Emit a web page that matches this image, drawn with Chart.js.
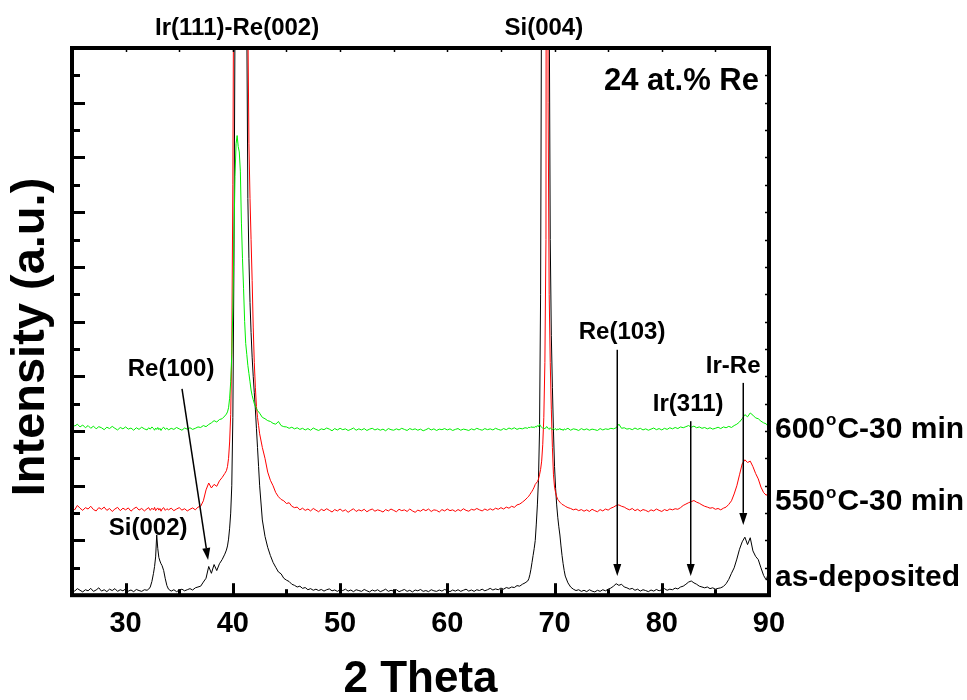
<!DOCTYPE html>
<html>
<head>
<meta charset="utf-8">
<title>XRD patterns, 24 at.% Re</title>
<script src="https://cdn.jsdelivr.net/npm/chart.js@4.4.1/dist/chart.umd.min.js"></script>
<style>
  html, body { margin: 0; padding: 0; background: #ffffff; }
  #wrap { width: 967px; height: 700px; position: relative; }
</style>
</head>
<body>
<div id="wrap"><canvas id="xrd" width="967" height="700"></canvas></div>
<script>
// ---- scan positions (2 theta, degrees); one row per degree ----
const twoTheta = [
  25, 25.25, 25.5, 25.75,
  26, 26.25, 26.5, 26.75,
  27, 27.25, 27.5, 27.75,
  28, 28.25, 28.5, 28.75,
  29, 29.25, 29.5, 29.75,
  30, 30.25, 30.5, 30.75,
  31, 31.25, 31.5, 31.75,
  32, 32.15, 32.3, 32.45, 32.6, 32.7, 32.8, 32.9,
  33, 33.1, 33.2, 33.3, 33.4, 33.55, 33.7, 33.85,
  34, 34.25, 34.5, 34.75,
  35, 35.25, 35.5, 35.75,
  36, 36.25, 36.5, 36.75,
  37, 37.25, 37.5, 37.75,
  38, 38.25, 38.5, 38.75,
  39, 39.25, 39.4, 39.5, 39.6, 39.7, 39.8, 39.9,
  40, 40.1, 40.2, 40.3, 40.4, 40.5, 40.6, 40.7, 40.8, 40.9,
  41, 41.1, 41.2, 41.3, 41.4, 41.5, 41.6, 41.7, 41.8, 41.9,
  42, 42.1, 42.2, 42.3, 42.4, 42.5, 42.75,
  43, 43.25, 43.5, 43.75,
  44, 44.25, 44.5, 44.75,
  45, 45.25, 45.5, 45.75,
  46, 46.25, 46.5, 46.75,
  47, 47.25, 47.5, 47.75,
  48, 48.25, 48.5, 48.75,
  49, 49.25, 49.5, 49.75,
  50, 50.25, 50.5, 50.75,
  51, 51.25, 51.5, 51.75,
  52, 52.25, 52.5, 52.75,
  53, 53.25, 53.5, 53.75,
  54, 54.25, 54.5, 54.75,
  55, 55.25, 55.5, 55.75,
  56, 56.25, 56.5, 56.75,
  57, 57.25, 57.5, 57.75,
  58, 58.25, 58.5, 58.75,
  59, 59.25, 59.5, 59.75,
  60, 60.25, 60.5, 60.75,
  61, 61.25, 61.5, 61.75,
  62, 62.25, 62.5, 62.75,
  63, 63.25, 63.5, 63.75,
  64, 64.25, 64.5, 64.75,
  65, 65.25, 65.5, 65.75,
  66, 66.25, 66.5, 66.75,
  67, 67.25, 67.5, 67.6, 67.7, 67.8, 67.9,
  68, 68.1, 68.2, 68.3, 68.4, 68.5, 68.6, 68.7, 68.8, 68.9,
  69, 69.1, 69.2, 69.3, 69.4, 69.5, 69.6, 69.7, 69.8, 69.9,
  70, 70.1, 70.2, 70.3, 70.4, 70.5, 70.6, 70.7, 70.8, 70.9,
  71, 71.25, 71.5, 71.75,
  72, 72.25, 72.5, 72.75,
  73, 73.25, 73.5, 73.75,
  74, 74.25, 74.5, 74.75,
  75, 75.25, 75.5, 75.75,
  76, 76.25, 76.5, 76.75,
  77, 77.25, 77.5, 77.75,
  78, 78.25, 78.5, 78.75,
  79, 79.25, 79.5, 79.75,
  80, 80.25, 80.5, 80.75,
  81, 81.25, 81.5, 81.75,
  82, 82.25, 82.5, 82.75,
  83, 83.25, 83.5, 83.75,
  84, 84.25, 84.5, 84.75,
  85, 85.25, 85.5, 85.75,
  86, 86.25, 86.5, 86.75,
  87, 87.25, 87.5, 87.75,
  88, 88.25, 88.5, 88.75,
  89, 89.25, 89.5, 89.75,
  90
];

// ---- intensities (a.u., stacked traces) ----
const asDeposited = [
  0.22, 0.15, 0.24, 0.18,
  0.12, 0.20, 0.16, 0.25,
  0.14, 0.19, 0.27, 0.15,
  0.20, 0.13, 0.22, 0.17,
  0.24, 0.14, 0.20, 0.16,
  0.23, 0.15, 0.19, 0.13,
  0.21, 0.17, 0.14, 0.20,
  0.18, 0.22, 0.30, 0.50, 0.80, 1.05, 1.40, 2.20,
  1.70, 1.38, 1.25, 1.15, 1.08, 0.90, 0.60, 0.35,
  0.22, 0.15, 0.20, 0.13,
  0.18, 0.22, 0.16, 0.20,
  0.24, 0.19, 0.27, 0.30,
  0.33, 0.48, 0.62, 1.05,
  0.80, 1.12, 0.90, 1.15,
  1.30, 1.50, 1.65, 1.80, 2.05, 2.45, 3.00, 4.00,
  6.5, 12, 21, 26, 29, 31, 33, 35, 38, 42,
  48, 55, 50, 21, 14.5, 12.3, 10.7, 9.6, 8.7, 8.0,
  7.4, 6.8, 6.1, 5.4, 4.7, 4.0, 2.75,
  2.15, 1.75, 1.45, 1.20,
  1.02, 0.85, 0.78, 0.62,
  0.55, 0.50, 0.40, 0.36,
  0.30, 0.33, 0.25, 0.28,
  0.20, 0.24, 0.18, 0.22,
  0.17, 0.21, 0.15, 0.20,
  0.23, 0.16, 0.19, 0.14,
  0.20, 0.17, 0.22, 0.15,
  0.19, 0.13, 0.20, 0.17,
  0.14, 0.21, 0.16, 0.12,
  0.19, 0.15, 0.20, 0.13,
  0.17, 0.22, 0.14, 0.18,
  0.15, 0.20, 0.13, 0.17,
  0.21, 0.14, 0.18, 0.12,
  0.19, 0.16, 0.21, 0.14,
  0.17, 0.13, 0.20, 0.16,
  0.14, 0.19, 0.15, 0.21,
  0.17, 0.13, 0.19, 0.15,
  0.20, 0.14, 0.18, 0.22,
  0.15, 0.19, 0.14, 0.20,
  0.17, 0.22, 0.16, 0.20,
  0.25, 0.19, 0.23, 0.20,
  0.26, 0.22, 0.28, 0.25,
  0.30, 0.28, 0.35, 0.33,
  0.40, 0.45, 0.52, 0.60, 0.75, 0.95, 1.20,
  1.45, 1.70, 2.00, 2.60, 3.30, 4.20, 6.00, 11, 24, 40,
  60, 72, 70, 58, 38, 22, 13, 9.5, 7.6, 6.0,
  4.7, 3.9, 3.3, 2.85, 2.5, 2.2, 1.8, 1.45, 1.15, 0.9,
  0.70, 0.45, 0.30, 0.22,
  0.17, 0.20, 0.14, 0.18,
  0.13, 0.20, 0.15, 0.12,
  0.18, 0.14, 0.20, 0.16,
  0.22, 0.26, 0.33, 0.42,
  0.36, 0.40, 0.30, 0.27,
  0.22, 0.25, 0.18, 0.22,
  0.15, 0.20, 0.17, 0.13,
  0.19, 0.15, 0.21, 0.16,
  0.20, 0.24, 0.18, 0.22,
  0.20, 0.26, 0.23, 0.30,
  0.33, 0.40, 0.48, 0.52,
  0.45, 0.40, 0.33, 0.30,
  0.27, 0.30, 0.24, 0.27,
  0.22, 0.25, 0.27, 0.32,
  0.42, 0.58, 0.80, 1.00,
  1.32, 1.68, 1.95, 2.12,
  1.85, 2.10, 1.62, 1.42,
  1.30, 1.00, 0.72, 0.55,
  0.92
];

const annealed550 = [
  3.22, 3.12, 3.28, 3.18,
  3.10, 3.20, 3.15, 3.25,
  3.13, 3.08, 3.20, 3.14,
  3.22, 3.10, 3.17, 3.06,
  3.15, 3.21, 3.09, 3.18,
  3.12, 3.19, 3.07, 3.16,
  3.22, 3.11, 3.17, 3.08,
  3.16, 3.20, 3.10, 3.18, 3.12, 3.21, 3.09, 3.15,
  3.19, 3.11, 3.17, 3.07, 3.15, 3.20, 3.10, 3.16,
  3.12, 3.18, 3.09, 3.15,
  3.20, 3.11, 3.16, 3.08,
  3.14, 3.19, 3.12, 3.22,
  3.25, 3.45, 3.85, 4.10,
  3.92, 4.05, 3.98, 4.18,
  4.30, 4.45, 4.55, 4.70, 5.00, 5.60, 6.60, 9.00,
  15, 25, 32, 36, 40, 43, 45, 46, 45, 43,
  40, 36, 30, 26, 21, 16.5, 14.5, 13.0, 11.5, 9.8,
  8.5, 7.6, 6.9, 6.5, 6.2, 5.9, 5.4,
  5.0, 4.5, 4.2, 4.0,
  3.75, 3.60, 3.50, 3.45,
  3.35, 3.38, 3.25, 3.20,
  3.22, 3.12, 3.18, 3.10,
  3.15, 3.08, 3.17, 3.11,
  3.05, 3.14, 3.09, 3.16,
  3.10, 3.04, 3.13, 3.08,
  3.15, 3.07, 3.12, 3.03,
  3.10, 3.16, 3.06, 3.12,
  3.08, 3.14, 3.05, 3.11,
  3.15, 3.07, 3.12, 3.09,
  3.04, 3.13, 3.08, 3.15,
  3.10, 3.05, 3.14, 3.09,
  3.12, 3.06, 3.15, 3.08,
  3.03, 3.11, 3.07, 3.14,
  3.09, 3.15, 3.06, 3.12,
  3.10, 3.04, 3.13, 3.08,
  3.15, 3.09, 3.12, 3.06,
  3.13, 3.08, 3.16, 3.10,
  3.07, 3.14, 3.11, 3.17,
  3.12, 3.08, 3.15, 3.10,
  3.16, 3.11, 3.18, 3.14,
  3.20, 3.15, 3.22, 3.18,
  3.25, 3.21, 3.30, 3.33,
  3.40, 3.48, 3.58, 3.62, 3.68, 3.74, 3.80,
  3.87, 3.95, 4.05, 4.10, 4.15, 4.24, 4.40, 4.60, 4.90, 5.50,
  6.5, 8.5, 13, 60, 18, 11, 8.5, 6.8, 5.4, 4.4,
  3.95, 3.75, 3.60, 3.50, 3.45, 3.40, 3.36, 3.32, 3.30, 3.28,
  3.25, 3.20, 3.17, 3.12,
  3.15, 3.09, 3.13, 3.07,
  3.12, 3.06, 3.14, 3.09,
  3.05, 3.13, 3.08, 3.15,
  3.11, 3.18, 3.22, 3.28,
  3.30, 3.25, 3.22, 3.16,
  3.12, 3.17, 3.09, 3.14,
  3.07, 3.13, 3.10, 3.05,
  3.12, 3.08, 3.15, 3.10,
  3.06, 3.13, 3.09, 3.15,
  3.12, 3.16, 3.14, 3.20,
  3.28, 3.33, 3.38, 3.42,
  3.46, 3.40, 3.36, 3.30,
  3.25, 3.22, 3.18, 3.20,
  3.14, 3.17, 3.12, 3.18,
  3.22, 3.32, 3.45, 3.70,
  4.00, 4.40, 4.80, 4.95,
  4.85, 4.90, 4.70, 4.45,
  4.25, 3.95, 3.75, 3.65,
  3.80
];

const annealed600 = [
  6.28, 6.18, 6.25, 6.15,
  6.22, 6.12, 6.20, 6.10,
  6.18, 6.08, 6.16, 6.12,
  6.05, 6.14, 6.09, 6.17,
  6.10, 6.04, 6.13, 6.08,
  6.15, 6.07, 6.11, 6.03,
  6.12, 6.06, 6.14, 6.08,
  6.04, 6.12, 6.07, 6.15, 6.09, 6.03, 6.11, 6.06,
  6.13, 6.05, 6.10, 6.02, 6.09, 6.14, 6.06, 6.11,
  6.04, 6.10, 6.06, 6.13,
  6.08, 6.03, 6.11, 6.07,
  6.12, 6.06, 6.10, 6.15,
  6.13, 6.20, 6.16, 6.24,
  6.30, 6.38, 6.33, 6.42,
  6.45, 6.55, 6.62, 6.70, 6.85, 7.20, 7.80, 8.80,
  10.5, 13.0, 15.3, 16.5, 16.8, 16.4, 16.2, 15.5, 13.6, 12.3,
  11.2, 10.0, 9.2, 8.8, 8.4, 8.1, 7.8, 7.5, 7.3, 7.15,
  7.00, 6.90, 6.82, 6.75, 6.70, 6.65, 6.50,
  6.45, 6.38, 6.35, 6.28,
  6.25, 6.35, 6.20, 6.16,
  6.15, 6.10, 6.14, 6.08,
  6.12, 6.06, 6.10, 6.04,
  6.09, 6.03, 6.11, 6.06,
  6.02, 6.08, 6.05, 6.11,
  6.07, 6.01, 6.09, 6.04,
  6.10, 6.05, 6.08, 6.02,
  6.06, 6.11, 6.03, 6.08,
  6.04, 6.09, 6.02, 6.07,
  6.10, 6.04, 6.08, 6.03,
  6.07, 6.01, 6.09, 6.05,
  6.03, 6.08, 6.04, 6.10,
  6.06, 6.02, 6.09, 6.05,
  6.08, 6.03, 6.07, 6.01,
  6.05, 6.10, 6.04, 6.08,
  6.02, 6.07, 6.05, 6.09,
  6.04, 6.08, 6.02, 6.06,
  6.09, 6.03, 6.07, 6.05,
  6.02, 6.08, 6.04, 6.10,
  6.06, 6.03, 6.09, 6.05,
  6.08, 6.04, 6.10, 6.06,
  6.03, 6.09, 6.05, 6.11,
  6.07, 6.12, 6.06, 6.10,
  6.08, 6.12, 6.10, 6.14, 6.12, 6.16, 6.13,
  6.15, 6.12, 6.17, 6.14, 6.20, 6.16, 6.25, 6.18, 6.14, 6.10,
  6.12, 6.08, 6.14, 6.16, 6.10, 6.06, 6.12, 6.08, 6.04, 6.10,
  6.06, 6.09, 6.03, 6.08, 6.05, 6.10, 6.04, 6.07, 6.02, 6.08,
  6.05, 6.10, 6.03, 6.08,
  6.06, 6.02, 6.09, 6.04,
  6.08, 6.03, 6.07, 6.05,
  6.02, 6.09, 6.04, 6.08,
  6.06, 6.10, 6.08, 6.12,
  6.25, 6.10, 6.12, 6.07,
  6.09, 6.05, 6.11, 6.06,
  6.10, 6.04, 6.08, 6.03,
  6.07, 6.11, 6.05, 6.09,
  6.04, 6.10, 6.06, 6.12,
  6.08, 6.13, 6.09, 6.15,
  6.12, 6.16, 6.20, 6.14,
  6.18, 6.12, 6.15, 6.10,
  6.13, 6.08, 6.12, 6.07,
  6.10, 6.14, 6.09, 6.15,
  6.12, 6.17, 6.13, 6.20,
  6.25, 6.33, 6.45, 6.60,
  6.52, 6.66, 6.58, 6.48,
  6.45, 6.36, 6.30, 6.26,
  6.12
];

// ---- axes ----
const xTickLabels = [30, 40, 50, 60, 70, 80, 90];
const xMinorTicks = [35, 45, 55, 65, 75, 85];
const yTickUnits = [1, 2, 3, 4, 5, 6, 7, 8, 9, 10, 11, 12, 13, 14, 15, 16, 17, 18, 19];

// ---- trace names and where they are written (intensity units) ----
const traceNames = ['600°C-30 min', '550°C-30 min', 'as-deposited'];
const traceNameLevels = [6.14, 3.49, 0.74];

// ---- reflection labels (2 theta, intensity) and arrows ----
const peakNotes = [
  { text: 'Re(100)', at: [34.24, 8.27] },
  { text: 'Si(002)', at: [32.1, 2.46] },
  { text: 'Re(103)', at: [76.3, 9.6] },
  { text: 'Ir(311)', at: [82.46, 6.99] },
  { text: 'Ir-Re', at: [86.66, 8.38] }
];
const peakArrows = [
  { from: [35.26, 7.54], to: [37.69, 1.29] },
  { from: [75.85, 8.97], to: [75.85, 0.70] },
  { from: [82.7, 6.36], to: [82.7, 0.70] },
  { from: [87.6, 7.76], to: [87.6, 2.57] }
];
const topNotes = [
  { text: 'Ir(111)-Re(002)', at: 40.4 },
  { text: 'Si(004)', at: 69.0 }
];

if (asDeposited.length !== twoTheta.length || annealed550.length !== twoTheta.length || annealed600.length !== twoTheta.length) {
  console.error('length mismatch', twoTheta.length, asDeposited.length, annealed550.length, annealed600.length);
}

const FONT = "'Liberation Sans', Arial, Helvetica, sans-serif";
const toPoints = (vals) => twoTheta.map((t, i) => ({ x: t, y: vals[i] }));

function drawArrow(ctx, x0, y0, x1, y1) {
  const ang = Math.atan2(y1 - y0, x1 - x0);
  const headLen = 12, headHalf = 4;
  const bx = x1 - headLen * Math.cos(ang), by = y1 - headLen * Math.sin(ang);
  ctx.beginPath();
  ctx.moveTo(x0, y0);
  ctx.lineTo(bx, by);
  ctx.stroke();
  ctx.beginPath();
  ctx.moveTo(x1, y1);
  ctx.lineTo(bx + headHalf * Math.sin(ang), by - headHalf * Math.cos(ang));
  ctx.lineTo(bx - headHalf * Math.sin(ang), by + headHalf * Math.cos(ang));
  ctx.closePath();
  ctx.fill();
}

// text with a raised small "o" standing in for the degree sign
function drawDegreeText(ctx, str, x, yMid, size) {
  const parts = str.split('°');
  ctx.textAlign = 'left';
  ctx.textBaseline = 'alphabetic';
  const base = yMid + size * 0.358;
  let cx = x;
  ctx.font = `bold ${size}px ${FONT}`;
  ctx.fillText(parts[0], cx, base);
  cx += ctx.measureText(parts[0]).width;
  if (parts.length > 1) {
    const small = Math.round(size * 0.55);
    ctx.font = `bold ${small}px ${FONT}`;
    ctx.fillText('o', cx + 1, base - size * 0.72 + small * 0.52);
    cx += ctx.measureText('o').width + 2;
    ctx.font = `bold ${size}px ${FONT}`;
    ctx.fillText(parts[1], cx, base);
  }
}

const decorations = {
  id: 'decorations',
  afterDatasetsDraw(chart) {
    const { ctx, chartArea: a, scales: { x, y } } = chart;
    ctx.save();
    ctx.strokeStyle = '#000';
    ctx.fillStyle = '#000';
    ctx.lineCap = 'butt';

    // inward ticks, left axis (long on even units)
    ctx.lineWidth = 3;
    yTickUnits.forEach(v => {
      const py = Math.round(y.getPixelForValue(v)) + 0.5;
      const len = v % 2 === 0 ? 13 : 8;
      ctx.beginPath(); ctx.moveTo(a.left, py); ctx.lineTo(a.left + len, py); ctx.stroke();
    });
    // inward ticks, bottom axis
    xTickLabels.concat(xMinorTicks).forEach(v => {
      const px = Math.round(x.getPixelForValue(v)) + 0.5;
      const len = xMinorTicks.includes(v) ? 6 : 12;
      ctx.beginPath(); ctx.moveTo(px, a.bottom); ctx.lineTo(px, a.bottom - len); ctx.stroke();
    });
    // small mirror ticks on top and right axes
    ctx.lineWidth = 1.5;
    xTickLabels.concat(xMinorTicks).forEach(v => {
      const px = Math.round(x.getPixelForValue(v)) + 0.5;
      ctx.beginPath(); ctx.moveTo(px, a.top); ctx.lineTo(px, a.top + 4); ctx.stroke();
    });
    yTickUnits.forEach(v => {
      const py = Math.round(y.getPixelForValue(v)) + 0.5;
      ctx.beginPath(); ctx.moveTo(a.right, py); ctx.lineTo(a.right - 4, py); ctx.stroke();
    });
    // frame
    ctx.lineWidth = 4;
    ctx.strokeRect(a.left, a.top, a.right - a.left, a.bottom - a.top);

    // arrows
    ctx.lineWidth = 1.5;
    peakArrows.forEach(ar => {
      drawArrow(ctx, x.getPixelForValue(ar.from[0]), y.getPixelForValue(ar.from[1]),
                     x.getPixelForValue(ar.to[0]), y.getPixelForValue(ar.to[1]));
    });

    // reflection labels
    ctx.font = `bold 24px ${FONT}`;
    ctx.textAlign = 'center';
    ctx.textBaseline = 'middle';
    peakNotes.forEach(n => {
      ctx.fillText(n.text, x.getPixelForValue(n.at[0]), y.getPixelForValue(n.at[1]));
    });
    topNotes.forEach(n => {
      ctx.fillText(n.text, x.getPixelForValue(n.at), a.top - 20);
    });

    // composition
    ctx.font = `bold 31px ${FONT}`;
    ctx.textAlign = 'right';
    ctx.textBaseline = 'alphabetic';
    ctx.fillText('24 at.% Re', a.right - 10, a.top + 42);

    // trace names to the right of the frame
    traceNames.forEach((t, i) => {
      drawDegreeText(ctx, t, a.right + 6, y.getPixelForValue(traceNameLevels[i]), 30);
    });

    // axis titles
    ctx.font = `bold 44px ${FONT}`;
    ctx.textAlign = 'center';
    ctx.textBaseline = 'middle';
    ctx.fillText('2 Theta', (a.left + a.right) / 2, 680);
    ctx.save();
    ctx.translate(31, 337);
    ctx.rotate(-Math.PI / 2);
    ctx.font = `bold 47px ${FONT}`;
    ctx.fillText('Intensity (a.u.)', 0, 0);
    ctx.restore();

    ctx.restore();
  }
};

new Chart(document.getElementById('xrd'), {
  type: 'line',
  data: {
    datasets: [
      { label: '600°C-30 min', data: toPoints(annealed600), borderColor: '#00ee00', borderWidth: 1, pointRadius: 0, tension: 0 },
      { label: '550°C-30 min', data: toPoints(annealed550), borderColor: '#ff0000', borderWidth: 1, pointRadius: 0, tension: 0 },
      { label: 'as-deposited', data: toPoints(asDeposited), borderColor: '#000000', borderWidth: 1, pointRadius: 0, tension: 0 }
    ]
  },
  options: {
    responsive: false,
    animation: false,
    devicePixelRatio: 1,
    layout: { padding: { left: 72, right: 198, top: 48, bottom: 48 } },
    plugins: { legend: { display: false }, tooltip: { enabled: false }, title: { display: false } },
    scales: {
      x: {
        type: 'linear',
        min: 25,
        max: 90,
        grid: { display: false, drawTicks: false },
        border: { display: false },
        afterBuildTicks: (scale) => { scale.ticks = xTickLabels.map(v => ({ value: v })); },
        ticks: {
          autoSkip: false,
          maxRotation: 0,
          padding: 11,
          color: '#000',
          font: { family: FONT, size: 29, weight: 'bold' }
        }
      },
      y: {
        type: 'linear',
        min: 0,
        max: 20,
        display: false
      }
    }
  },
  plugins: [decorations]
});
</script>
</body>
</html>
